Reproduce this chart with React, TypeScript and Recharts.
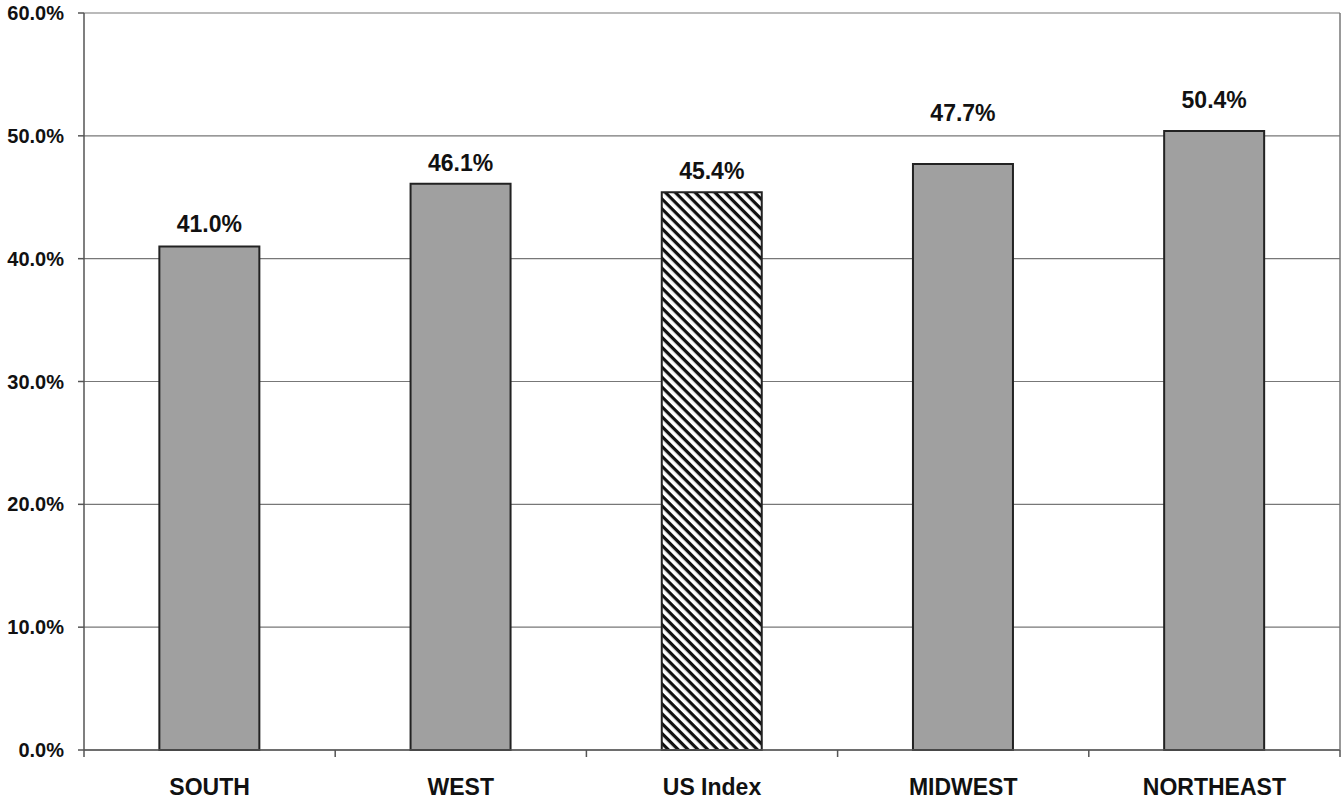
import React from 'react';
import { BarChart, Bar, XAxis, YAxis, CartesianGrid, Cell, LabelList } from 'recharts';

const categories = ['SOUTH', 'WEST', 'US Index', 'MIDWEST', 'NORTHEAST'];
const values = [41.0, 46.1, 45.4, 47.7, 50.4];
const hatched = [false, false, true, false, false];
const yTicks = [0, 10, 20, 30, 40, 50, 60];

const data = categories.map((c, i) => ({ name: c, value: values[i], hatched: hatched[i] }));

// extra vertical lift (px) of each value label above its bar, as in the reference
const labelLift = [14, 13, 13, 43, 23];

const FONT = '"Liberation Sans", Arial, Helvetica, sans-serif';

const XTick = (props: any) => {
  const { x, y, payload, index, visibleTicksCount } = props;
  const off = payload && payload.offset ? payload.offset : 0;
  const last = index === (visibleTicksCount ?? categories.length) - 1;
  return (
    <g>
      <line x1={x - off} x2={x - off} y1={y} y2={y + 7} stroke="#555" strokeWidth={1.5} />
      {last && <line x1={x + off} x2={x + off} y1={y} y2={y + 7} stroke="#555" strokeWidth={1.5} />}
      <text x={x} y={y + 29} dy="0.71em" textAnchor="middle" fontFamily={FONT} fontWeight="bold" fontSize={23} fill="#111">
        {payload.value}
      </text>
    </g>
  );
};

const ValueLabel = (props: any) => {
  const { x, y, width, value, index } = props;
  return (
    <text
      x={Number(x) + Number(width) / 2}
      y={Number(y) - labelLift[index]}
      textAnchor="middle"
      fontFamily={FONT}
      fontWeight="bold"
      fontSize={23}
      fill="#111"
    >
      {Number(value).toFixed(1) + '%'}
    </text>
  );
};

export default function App() {
  return (
    <div style={{ position: 'absolute', left: 0, top: 0, background: '#fff' }}>
      <BarChart
        width={1342}
        height={804}
        data={data}
        margin={{ top: 13, right: 0, bottom: 0, left: 0 }}
        barCategoryGap="30%"
      >
        <defs>
          <pattern id="hatch" patternUnits="userSpaceOnUse" width={7} height={7} patternTransform="rotate(45)">
            <rect x={0} y={0} width={7} height={7} fill="#fff" />
            <rect x={0} y={0} width={7} height={3.2} fill="#111" />
          </pattern>
        </defs>
        <CartesianGrid vertical={false} stroke="#777" strokeWidth={1.2} />
        <XAxis
          dataKey="name"
          height={54}
          tickSize={0}
          tickMargin={0}
          tickLine={false}
          axisLine={{ stroke: '#555', strokeWidth: 1.5 }}
          tick={<XTick />}
          interval={0}
        />
        <YAxis
          width={84}
          domain={[0, 60]}
          ticks={yTicks}
          interval={0}
          tickFormatter={(v: number) => v.toFixed(1) + '%'}
          tickSize={6}
          tickMargin={14}
          tickLine={{ stroke: '#555', strokeWidth: 1.5 }}
          axisLine={{ stroke: '#555', strokeWidth: 1.5 }}
          tick={{ fontFamily: FONT, fontWeight: 'bold', fontSize: 20, fill: '#111' }}
        />
        <YAxis
          yAxisId="r"
          orientation="right"
          width={2}
          domain={[0, 60]}
          tick={false}
          tickLine={false}
          axisLine={{ stroke: '#777', strokeWidth: 1.5 }}
        />
        <Bar dataKey="value" isAnimationActive={false} stroke="#222" strokeWidth={2}>
          {data.map((d, i) => (
            <Cell key={i} fill={d.hatched ? 'url(#hatch)' : '#a0a0a0'} />
          ))}
          <LabelList dataKey="value" content={<ValueLabel />} />
        </Bar>
      </BarChart>
    </div>
  );
}
